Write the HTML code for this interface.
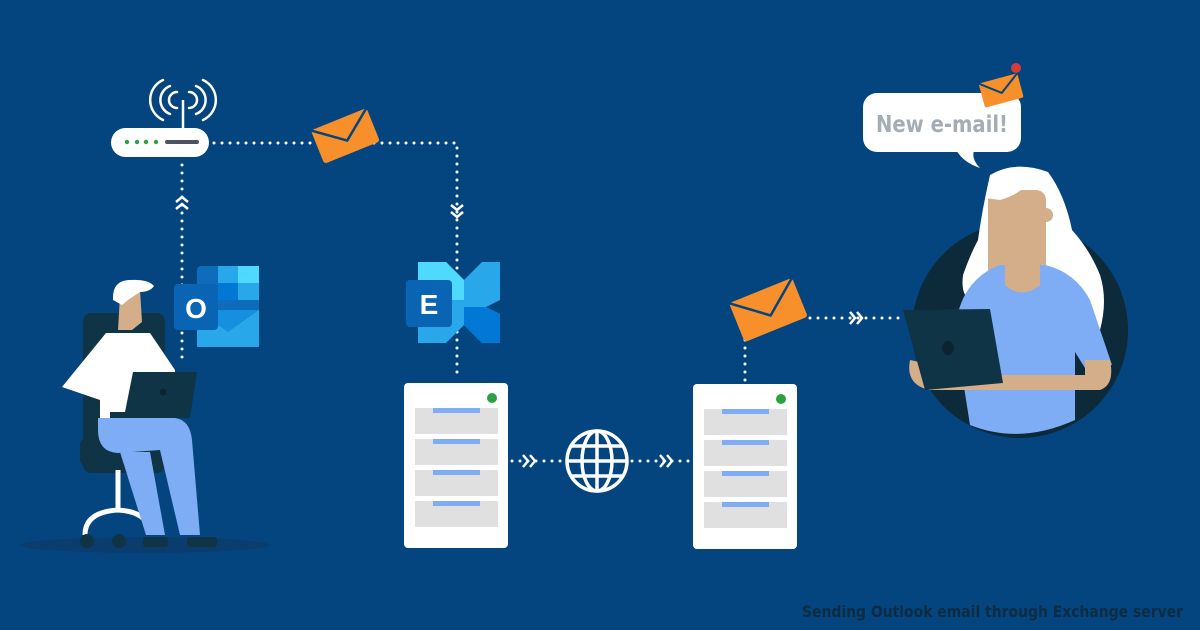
<!DOCTYPE html>
<html><head><meta charset="utf-8"><style>html,body{margin:0;padding:0;background:#04457f}svg{display:block}</style></head>
<body>
<svg width="1200" height="630" viewBox="0 0 1200 630" xmlns="http://www.w3.org/2000/svg">
<rect width="1200" height="630" fill="#04457f"/>
<g fill="none" stroke="#fff" stroke-width="3" stroke-linecap="round" stroke-dasharray="0 8">
<path d="M214 143 H457 V375"/>
<path d="M182 165 V365"/>
<path d="M512 461 H562"/>
<path d="M632 461 H690"/>
<path d="M745 340 V382"/>
<path d="M810 318 H900"/>
</g>
<g fill="none" stroke="#fff" stroke-width="2.5">
<path d="M176 202 l6 -5 l6 5 M176 209 l6 -5 l6 5"/>
<path d="M451 205 l6 5 l6 -5 M451 212 l6 5 l6 -5"/>
<path d="M523 455 l5 6 l-5 6 M530 455 l5 6 l-5 6"/>
<path d="M660 455 l5 6 l-5 6 M667 455 l5 6 l-5 6"/>
<path d="M850 312 l5 6 l-5 6 M857 312 l5 6 l-5 6"/>
</g>
<!-- router -->
<rect x="111" y="128" width="98" height="29" rx="14.5" fill="#fff"/>
<line x1="183" y1="100" x2="183" y2="128" stroke="#fff" stroke-width="2.5"/>
<g fill="none" stroke="#fff" stroke-width="2.5" stroke-linecap="round">
<path d="M177 92 a8 8 0 0 0 0 16 M189 92 a8 8 0 0 1 0 16"/>
<path d="M170 86 a15 15 0 0 0 0 28 M196 86 a15 15 0 0 1 0 28"/>
<path d="M163 80 a22 22 0 0 0 0 40 M203 80 a22 22 0 0 1 0 40"/>
</g>
<g fill="#2ea043"><circle cx="127" cy="142" r="2.2"/><circle cx="137" cy="142" r="2.2"/><circle cx="146" cy="142" r="2.2"/><circle cx="156" cy="142" r="2.2"/></g>
<rect x="165" y="140" width="34" height="4" rx="2" fill="#4a5560"/>
<!-- envelope 1 -->
<g transform="translate(345,135) rotate(-22)">
<rect x="-30" y="-17" width="60" height="36" rx="3" fill="#f7902b"/>
<path d="M-30 -17 L0 6 L30 -17" fill="none" stroke="#04457f" stroke-width="2.5"/>
</g>
<!-- outlook -->
<rect x="197" y="266" width="62" height="81" rx="4" fill="#0f6cbd"/>
<rect x="218" y="266" width="20" height="17" fill="#28a8ea"/><rect x="238" y="266" width="21" height="17" fill="#50d9ff"/>
<rect x="218" y="283" width="20" height="17" fill="#0078d4"/><rect x="238" y="283" width="21" height="17" fill="#28a8ea"/>
<path d="M197 310 L259 310 L259 347 L197 347 Z" fill="#1490df"/>
<path d="M197 310 L228 332 L259 310 L259 347 L197 347 Z" fill="#28a8ea"/>
<rect x="174" y="284" width="44" height="46" rx="4" fill="#0a64b4"/>
<text x="196" y="318" font-family="Liberation Sans, sans-serif" font-weight="bold" font-size="28" fill="#fff" text-anchor="middle">O</text>
<!-- exchange -->
<path d="M418 262 H446 L464 280 L482 262 H500 V300 L486 307 L500 314 V343 H482 L464 325 L446 343 H418 Z" fill="#28a8ea"/>
<path d="M418 262 H446 L464 280 V300 H418 Z" fill="#50d9ff"/>
<path d="M464 307 L486 307 L500 314 V343 H482 L464 325 Z" fill="#0078d4"/>
<rect x="406" y="280" width="46" height="47" rx="4" fill="#0a64b4"/>
<text x="429" y="314" font-family="Liberation Sans, sans-serif" font-weight="bold" font-size="28" fill="#fff" text-anchor="middle">E</text>
<!-- servers -->
<g id="srv">
<rect x="404" y="383" width="104" height="165" rx="4" fill="#fff"/>
<circle cx="492" cy="398" r="5" fill="#2ea043"/>
<g fill="#e0e0e0"><rect x="415" y="408" width="83" height="26"/><rect x="415" y="439" width="83" height="26"/><rect x="415" y="470" width="83" height="26"/><rect x="415" y="501" width="83" height="26"/></g>
<g fill="#7eadf5"><rect x="433" y="408" width="47" height="5"/><rect x="433" y="439" width="47" height="5"/><rect x="433" y="470" width="47" height="5"/><rect x="433" y="501" width="47" height="5"/></g>
</g>
<use href="#srv" transform="translate(289,1)"/>
<!-- globe -->
<g fill="none" stroke="#fff" stroke-width="3.5">
<circle cx="597" cy="461" r="30"/>
<ellipse cx="597" cy="461" rx="15" ry="30"/>
<line x1="597" y1="431" x2="597" y2="491"/>
<line x1="567" y1="461" x2="627" y2="461"/>
<line x1="572" y1="446" x2="622" y2="446"/>
<line x1="572" y1="476" x2="622" y2="476"/>
</g>
<!-- envelope 2 -->
<g transform="translate(768,309) rotate(-22)">
<rect x="-34" y="-20" width="68" height="42" rx="3" fill="#f7902b"/>
<path d="M-34 -20 L0 7 L34 -20" fill="none" stroke="#04457f" stroke-width="2.5"/>
</g>
<!-- left person -->
<ellipse cx="145" cy="545" rx="125" ry="8" fill="#0a3d6e"/>
<rect x="83" y="313" width="82" height="160" rx="8" fill="#0f3446"/>
<rect x="80" y="437" width="100" height="30" rx="8" fill="#0f3446"/>
<path d="M118 470 V510 M118 510 Q85 512 85 535 M118 510 Q150 512 150 535" fill="none" stroke="#fff" stroke-width="5"/>
<circle cx="87" cy="541" r="7" fill="#0f3446"/><circle cx="119" cy="541" r="7" fill="#0f3446"/>
<path d="M106 333 L150 333 L175 370 L175 420 L100 420 L100 400 L62 387 Z" fill="#fff"/>
<path d="M120 296 Q125 287 140 290 L142 322 L132 330 L118 330 Z" fill="#d4ae88"/>
<path d="M113 300 Q112 280 130 280 Q148 279 154 286 Q150 292 140 292 L128 300 L122 305 Z" fill="#fff"/>
<path d="M98 418 L175 418 Q190 420 192 440 L200 535 L180 535 L160 450 L118 453 Q98 452 98 430 Z" fill="#7eadf5"/>
<path d="M120 452 L150 452 L165 535 L146 535 Z" fill="#7eadf5"/>
<rect x="143" y="537" width="25" height="10" rx="3" fill="#0f3446"/><rect x="187" y="537" width="30" height="10" rx="3" fill="#0f3446"/>
<path d="M133 372 L197 372 L190 418 L110 418 L110 412 L125 412 Z" fill="#0f3446"/>
<circle cx="163" cy="392" r="3.5" fill="#0a2432"/>
<!-- woman -->
<circle cx="1020" cy="330" r="108" fill="#0c2a3a"/>
<path d="M990 175 Q1015 160 1048 172 Q1065 195 1072 230 Q1090 250 1100 275 Q1108 300 1100 330 L1050 320 L975 300 Q960 300 963 275 Q970 255 978 240 Q982 210 990 175 Z" fill="#fff"/>
<rect x="988" y="190" width="58" height="100" rx="10" fill="#d4ae88"/>
<circle cx="1046" cy="215" r="7" fill="#d4ae88"/>
<path d="M985 198 Q1000 172 1032 178 Q1022 194 1000 200 Z" fill="#fff"/>
<path d="M1000 265 L1045 265 Q1075 272 1090 300 L1112 365 L1085 368 L1075 352 L1075 420 Q1020 445 970 425 L955 330 Q960 280 1000 265 Z" fill="#7eadf5"/>
<path d="M1005 265 L1040 265 L1040 285 Q1022 300 1005 285 Z" fill="#d4ae88"/>
<path d="M910 360 Q905 385 930 390 L1100 390 Q1115 385 1110 360 L1085 360 L1085 375 L980 375 Z" fill="#d4ae88"/>
<path d="M903 310 L990 309 L1003 383 L925 390 Z" fill="#0f3446"/>
<ellipse cx="948" cy="348" rx="6" ry="7" fill="#0a2432"/>
<!-- bubble -->
<rect x="863" y="93" width="158" height="59" rx="14" fill="#fff"/>
<path d="M955 148 Q962 162 980 168 Q970 158 975 148 Z" fill="#fff"/>
<text x="876" y="132" font-family="DejaVu Sans Condensed, DejaVu Sans, sans-serif" font-weight="bold" font-size="23" fill="#a4adb6" textLength="132" lengthAdjust="spacingAndGlyphs">New e-mail!</text>
<g transform="translate(1001,90) rotate(-15)">
<rect x="-20" y="-12" width="40" height="25" rx="2" fill="#f7902b"/>
<path d="M-20 -12 L0 3 L20 -12" fill="none" stroke="#04457f" stroke-width="2"/>
</g>
<circle cx="1016" cy="68" r="5" fill="#d93a3a"/>
<text x="802" y="617" font-family="DejaVu Sans Condensed, Liberation Sans Narrow, sans-serif" font-weight="bold" font-size="16" fill="#0d2c43" textLength="381" lengthAdjust="spacingAndGlyphs">Sending Outlook email through Exchange server</text>
</svg>
</body></html>
